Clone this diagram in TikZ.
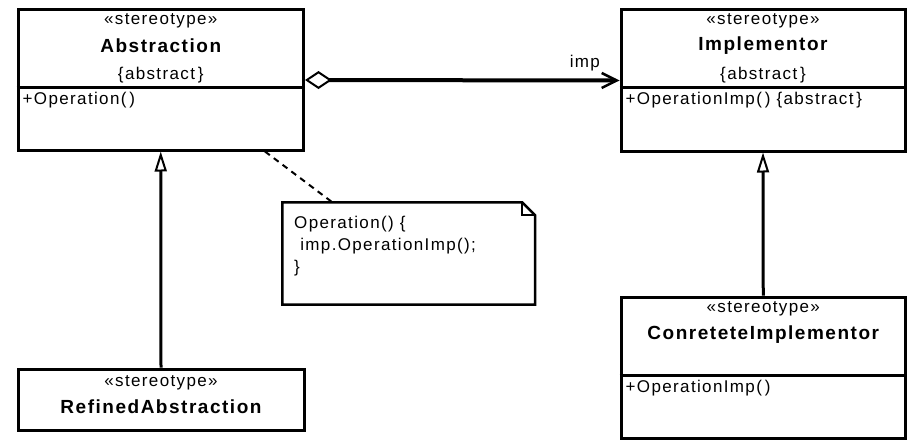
\documentclass[tikz,border=0pt]{standalone}
\usepackage{fontspec}
\newfontfamily\umlfont{Liberation Sans}[LetterSpace=8]
\usetikzlibrary{arrows.meta}

\begin{document}
\begin{tikzpicture}[x=1pt,y=-1pt,
        box/.style={draw,line width=3pt,inner sep=0pt},
        txt/.style={inner sep=0pt,font=\umlfont\fontsize{17}{22}\selectfont},
        clsname/.style={inner sep=0pt,font=\umlfont\bfseries\fontsize{19}{22}\selectfont},
        oper/.style={txt,anchor=west},
        aggr/.style={line width=4pt,
            {Diamond[open,length=27pt,width=18pt,line width=2pt]}-{Straight Barb[length=15pt,width=15pt,line width=2.5pt]}},
        inherit/.style={line width=3pt,-{Triangle[open,length=20pt,width=12pt,line width=2pt]}},
        noteline/.style={line width=2pt,dash pattern=on 6pt off 5pt}]
        \useasboundingbox (0,0) rectangle (909,441);

        % draw the class boxes
        \node[box,minimum width=285.5pt,minimum height=140pt] (abs) at (160.75,80) {};
        \node[box,minimum width=284pt,minimum height=141pt] (imp) at (763,80.5) {};
        \node[box,minimum width=286pt,minimum height=61pt] (ref) at (161,399.5) {};
        \node[box,minimum width=284.5pt,minimum height=141.5pt] (con) at (763.25,367.75) {};

        % draw the compartment lines
        \draw[line width=3pt] (abs.west |- 0,87.5) -- (abs.east |- 0,87.5);
        \draw[line width=3pt] (imp.west |- 0,87.5) -- (imp.east |- 0,87.5);
        \draw[line width=3pt] (con.west |- 0,375) -- (con.east |- 0,375);

        % class texts
        \foreach \c/\x/\y/\cname in {abs/160.75/21/Abstraction, imp/763/21/Implementor} {
                \node[txt] (\c-st) at (\x,\y) {«stereotype»};
                \node[clsname] (\c-name) at (\x,\y+25) {\cname};
                \node[txt] (\c-prop) at (\x,\y+54) {\{abstract\,\}};
        }
        \node[oper] (abs-op) at (22.5,100) {+Operation(\,)};
        \node[oper] (imp-op) at (625.5,100) {+OperationImp(\,) \{abstract\,\}};

        \node[txt] (ref-st) at (161,383) {«stereotype»};
        \node[clsname] (ref-name) at (161,407) {RefinedAbstraction};

        \node[txt] (con-st) at (763.25,309) {«stereotype»};
        \node[clsname] (con-name) at (763.25,335) {ConreteteImplementor};
        \node[oper] (con-op) at (625.5,388) {+OperationImp(\,)};

        % draw the note
        \node[minimum width=252.5pt,minimum height=102pt,inner sep=0pt] (note) at (408.75,253.5) {};
        \draw[line width=2.5pt] ([xshift=-13pt]note.north east) -- (note.north west) -- (note.south west)
                -- (note.south east) -- ([yshift=-13pt]note.north east) -- cycle;
        \draw[line width=2pt] ([xshift=-13pt]note.north east) -- ([xshift=-13pt,yshift=-13pt]note.north east)
                -- ([yshift=-13pt]note.north east);
        \node[txt,anchor=north west,align=left] (note-text) at (294,216)
                {Operation() \{\\\ imp.OperationImp();\\\}};
        \draw[noteline] ([xshift=-40pt]abs.south east) -- ([xshift=50pt]note.north west);

        % draw the relations
        \draw[aggr] (abs.east) -- (imp.west) node[txt,pos=0.89,above=7pt] (imp-role) {imp};
        \draw[inherit] (ref.north) -- (abs.south);
        \draw[inherit] (con.north) -- (imp.south);
\end{tikzpicture}
\end{document}
